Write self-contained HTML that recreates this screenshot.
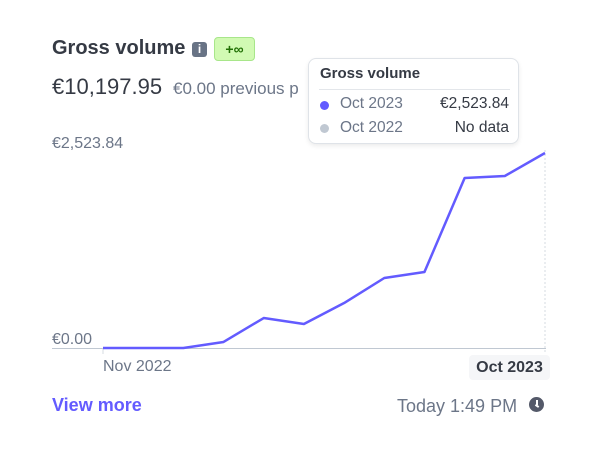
<!DOCTYPE html>
<html><head><meta charset="utf-8"><style>
body{margin:0;width:600px;height:455px;background:#fff;font-family:"Liberation Sans",sans-serif;position:relative;overflow:hidden}
.a{position:absolute;white-space:nowrap}
</style></head><body>
<div class="a" style="left:52px;top:37px;font-size:20px;font-weight:bold;color:#353a44">Gross volume</div>
<div class="a" style="left:192px;top:42px;width:15px;height:15px;background:#687385;border-radius:3px;color:#fff;font-size:12px;font-weight:bold;text-align:center;line-height:15px">i</div>
<div class="a" style="left:214px;top:37px;width:41px;height:24px;background:#d1fab3;border:1px solid #a8e68a;border-radius:4px;box-sizing:border-box;color:#217005;font-size:14px;font-weight:bold;text-align:center;line-height:22px">+∞</div>
<div class="a" style="left:52px;top:74px;font-size:22px;color:#353a44">€10,197.95</div>
<div class="a" style="left:173px;top:79px;font-size:17px;color:#6c7688">€0.00 previous p</div>
<div class="a" style="left:52px;top:135px;font-size:16px;color:#6c7688">€2,523.84</div>
<div class="a" style="left:52px;top:331px;font-size:16px;color:#6c7688">€0.00</div>
<svg class="a" style="left:0;top:0" width="600" height="455">
<line x1="52" y1="348.5" x2="546" y2="348.5" stroke="#c0c8d2" stroke-width="1"/>
<line x1="103" y1="348" x2="103" y2="354" stroke="#d5dbe1"/>
<line x1="545" y1="150" x2="545" y2="354" stroke="#d5dbe1" stroke-dasharray="2,2"/>
<g id="series"></g>
</svg>
<div class="a" style="left:103px;top:358px;font-size:16px;color:#6c7688">Nov 2022</div>
<div class="a" style="left:469px;top:355px;width:81px;height:25px;background:#f5f6f8;border-radius:4px;font-size:16px;font-weight:bold;color:#353a44;text-align:center;line-height:25px">Oct 2023</div>
<div class="a" style="left:52px;top:395px;font-size:18px;font-weight:bold;color:#635bff">View more</div>
<div class="a" style="left:397px;top:396px;font-size:18px;color:#6c7688">Today 1:49 PM</div>
<div class="a" style="left:529px;top:397px;width:15px;height:15px;border-radius:50%;background:#545969"><div style="position:absolute;left:7px;top:3px;width:1.5px;height:5px;background:#fff"></div><div style="position:absolute;left:7px;top:7px;width:4px;height:1.5px;background:#fff;transform:rotate(35deg);transform-origin:0 0"></div></div>
<div class="a" style="left:308px;top:58px;width:211px;height:86px;background:#fff;border:1px solid #dfe3e8;border-radius:8px;box-shadow:0 2px 5px rgba(0,0,0,0.08);box-sizing:border-box">
<div class="a" style="left:11px;top:6px;font-size:15px;font-weight:bold;color:#353a44">Gross volume</div>
<div class="a" style="left:10px;top:30px;width:191px;height:1px;background:#e3e6ea"></div>
<div class="a" style="left:11px;top:42px;width:9px;height:9px;border-radius:50%;background:#635bff"></div>
<div class="a" style="left:31px;top:36px;font-size:15.5px;color:#6c7688">Oct 2023</div>
<div class="a" style="right:9px;top:36px;font-size:15.5px;color:#353a44">€2,523.84</div>
<div class="a" style="left:11px;top:65px;width:9px;height:9px;border-radius:50%;background:#c0c8d2"></div>
<div class="a" style="left:31px;top:60px;font-size:15.5px;color:#6c7688">Oct 2022</div>
<div class="a" style="right:9px;top:60px;font-size:15.5px;color:#353a44">No data</div>
</div>
<script>
const categories=["Nov 2022","Dec 2022","Jan 2023","Feb 2023","Mar 2023","Apr 2023","May 2023","Jun 2023","Jul 2023","Aug 2023","Sep 2023","Oct 2023"];
const values=[0,0,0,78,388,311,582,906,984,2200,2226,2523.84];
const yMax=2523.84;
const x=i=>103+i*(545-103)/(categories.length-1);
const y=v=>348-v/yMax*195;
const g=document.getElementById('series');
const p=document.createElementNS('http://www.w3.org/2000/svg','polyline');
p.setAttribute('points',values.map((v,i)=>x(i)+','+y(v)).join(' '));
p.setAttribute('fill','none');p.setAttribute('stroke','#635bff');p.setAttribute('stroke-width','2.5');p.setAttribute('stroke-linejoin','round');


g.appendChild(p);
</script>
</body></html>
